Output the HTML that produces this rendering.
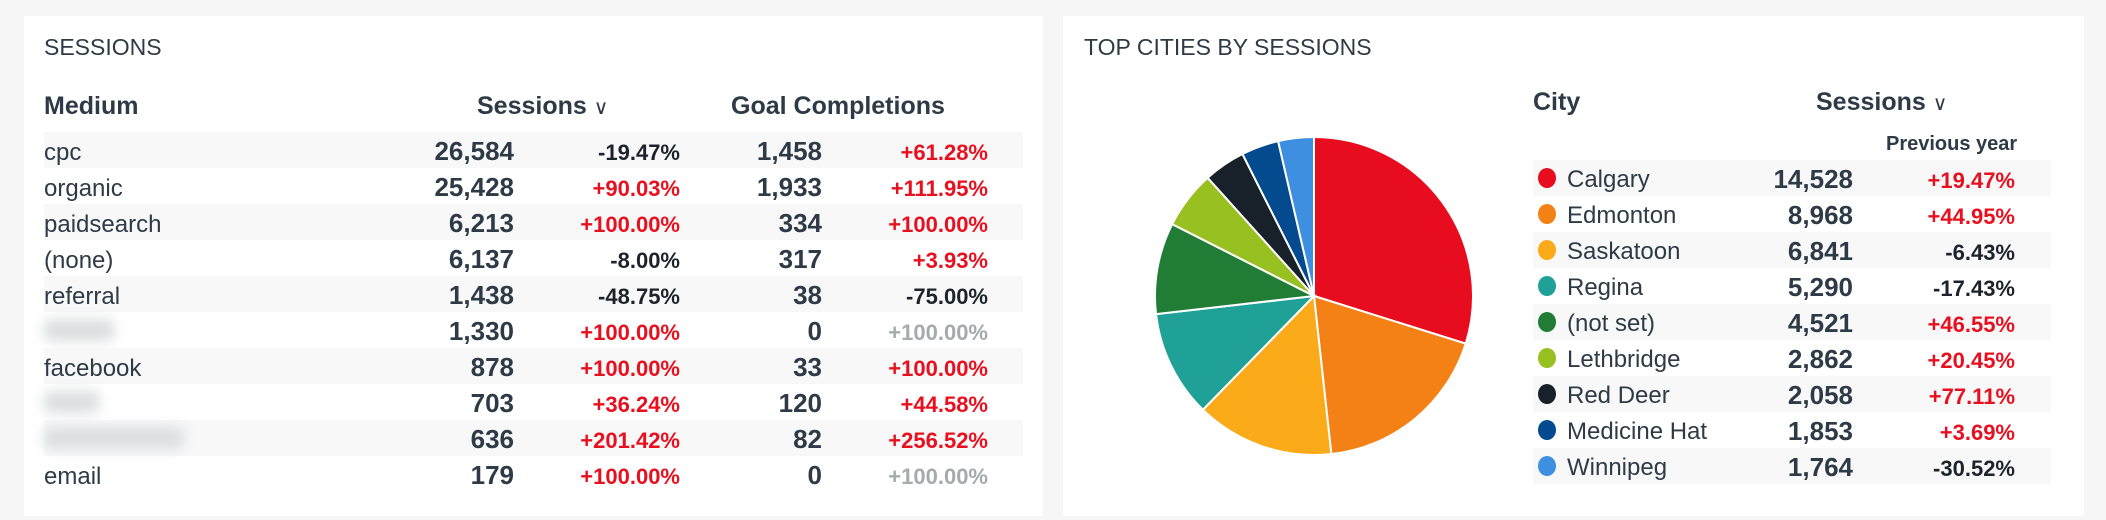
<!DOCTYPE html>
<html><head><meta charset="utf-8"><style>
body{margin:0;width:2106px;height:520px;background:#f6f6f6;font-family:"Liberation Sans",sans-serif;color:#2e3a46;position:relative;overflow:hidden}
.p{position:absolute;background:#fff;top:16px;height:500px}
.a{position:absolute;white-space:nowrap}
.t{font-size:23px;color:#2e3a46}
.h{font-weight:bold;font-size:25px}
.s{position:absolute;background:#f8f8f9;height:36px}
.lab{font-size:24px}
.n{font-weight:bold;font-size:26px;text-align:right}
.pc{font-weight:bold;font-size:22px;text-align:right}
.r{color:#e8101f}.k{color:#1d232b}.g{color:#a6a9ad}
.blur{position:absolute;background:#dcdee0;filter:blur(6px);height:22px;border-radius:6px}
.dot{position:absolute;width:18px;height:20px;border-radius:50%}
.cv{font-weight:normal;font-size:20px}
</style></head><body>
<div class="p" style="left:24px;width:1019px"></div>
<div class="p" style="left:1063px;width:1021px"></div>
<div class="a t" style="left:44px;top:34px">SESSIONS</div>
<div class="a h" style="left:44px;top:92px">Medium</div>
<div class="a h" style="left:477px;top:92px">Sessions <span class="cv">&#8744;</span></div>
<div class="a h" style="left:731px;top:92px">Goal Completions</div>
<div id="L"></div>
<div class="a t" style="left:1084px;top:34px">TOP CITIES BY SESSIONS</div>
<div class="a h" style="left:1533px;top:88px">City</div>
<div class="a h" style="left:1816px;top:88px">Sessions <span class="cv">&#8744;</span></div>
<div class="a" style="left:1886px;top:133px;font-weight:bold;font-size:20px">Previous year</div>
<div id="R"></div>
<svg id="pie" width="2106" height="520" style="position:absolute;left:0;top:0"></svg>
<script>
var L=[["cpc","26,584","-19.47%","k","1,458","+61.28%","r"],["organic","25,428","+90.03%","r","1,933","+111.95%","r"],["paidsearch","6,213","+100.00%","r","334","+100.00%","r"],["(none)","6,137","-8.00%","k","317","+3.93%","r"],["referral","1,438","-48.75%","k","38","-75.00%","k"],["#1","1,330","+100.00%","r","0","+100.00%","g"],["facebook","878","+100.00%","r","33","+100.00%","r"],["#2","703","+36.24%","r","120","+44.58%","r"],["#3","636","+201.42%","r","82","+256.52%","r"],["email","179","+100.00%","r","0","+100.00%","g"]];
var h="";L.forEach(function(d,i){var y=132+i*36;
if(i%2==0)h+='<div class="s" style="left:44px;width:979px;top:'+y+'px"></div>';
var ty=y+4;
if(d[0][0]=="#"){var w={"#1":70,"#2":55,"#3":140}[d[0]];h+='<div class="blur" style="left:44px;top:'+(y+7)+'px;width:'+w+'px"></div>';}
else h+='<div class="a lab" style="left:44px;top:'+(ty+3)+'px">'+d[0]+'</div>';
h+='<div class="a n" style="right:'+(2106-514)+'px;top:'+ty+'px">'+d[1]+'</div>';
h+='<div class="a pc '+d[3]+'" style="right:'+(2106-680)+'px;top:'+(ty+4)+'px">'+d[2]+'</div>';
h+='<div class="a n" style="right:'+(2106-822)+'px;top:'+ty+'px">'+d[4]+'</div>';
h+='<div class="a pc '+d[6]+'" style="right:'+(2106-988)+'px;top:'+(ty+4)+'px">'+d[5]+'</div>';});
document.getElementById("L").innerHTML=h;
var R=[["Calgary",14528,"14,528","+19.47%","r","#e80c1f"],["Edmonton",8968,"8,968","+44.95%","r","#f48116"],["Saskatoon",6841,"6,841","-6.43%","k","#fbaa19"],["Regina",5290,"5,290","-17.43%","k","#1fa197"],["(not set)",4521,"4,521","+46.55%","r","#217c35"],["Lethbridge",2862,"2,862","+20.45%","r","#99c021"],["Red Deer",2058,"2,058","+77.11%","r","#18202a"],["Medicine Hat",1853,"1,853","+3.69%","r","#044a8f"],["Winnipeg",1764,"1,764","-30.52%","k","#3f8fe0"]];
h="";R.forEach(function(d,i){var y=160+i*36;
if(i%2==0)h+='<div class="s" style="left:1533px;width:518px;top:'+y+'px"></div>';
h+='<div class="dot" style="left:1538px;top:'+(y+8)+'px;background:'+d[5]+'"></div>';
h+='<div class="a lab" style="left:1567px;top:'+(y+6)+'px">'+d[0]+'</div>';
h+='<div class="a n" style="right:'+(2106-1853)+'px;top:'+(y+4)+'px">'+d[2]+'</div>';
h+='<div class="a pc '+d[4]+'" style="right:'+(2106-2015)+'px;top:'+(y+8)+'px">'+d[3]+'</div>';});
document.getElementById("R").innerHTML=h;
var tot=0;R.forEach(function(d){tot+=d[1]});var a=0,cx=1314,cy=296,r=159,s="";
R.forEach(function(d){var b=a+d[1]/tot*2*Math.PI;
var x1=cx+r*Math.sin(a),y1=cy-r*Math.cos(a),x2=cx+r*Math.sin(b),y2=cy-r*Math.cos(b);
s+='<path d="M'+cx+','+cy+'L'+x1+','+y1+'A'+r+','+r+' 0 '+(b-a>Math.PI?1:0)+' 1 '+x2+','+y2+'Z" fill="'+d[5]+'" stroke="#fff" stroke-width="2"/>';a=b;});
document.getElementById("pie").innerHTML=s;
</script>
</body></html>
